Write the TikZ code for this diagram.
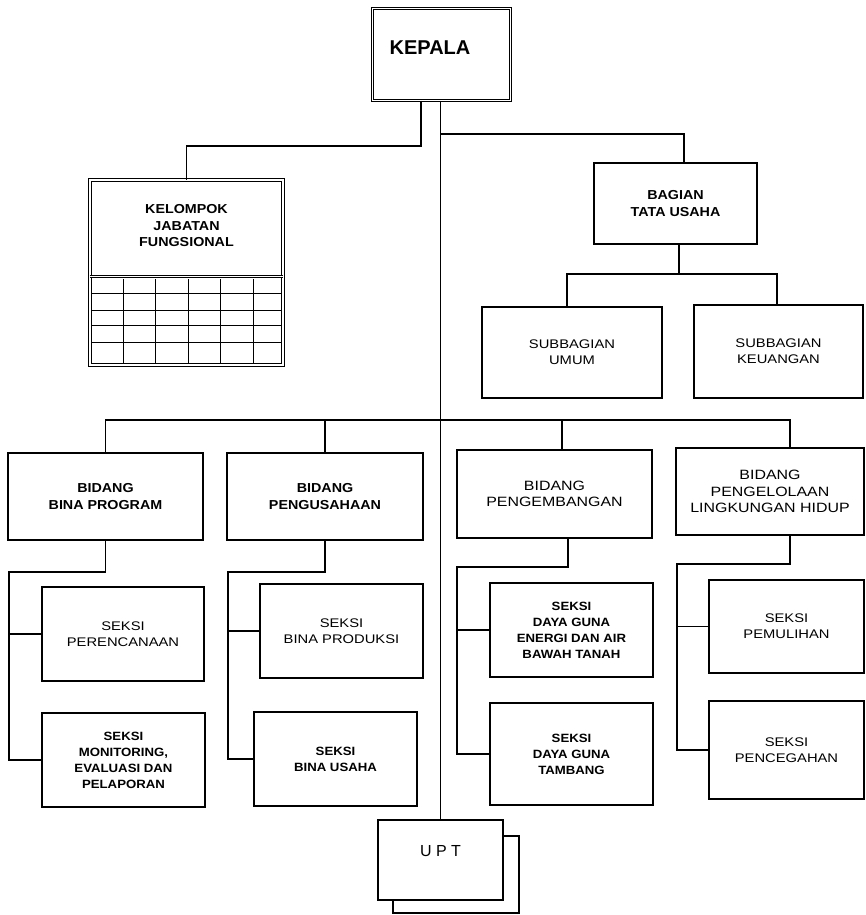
\documentclass[tikz,border=0pt]{standalone}
\usepackage{fontspec}
\setmainfont{Liberation Sans}
\newfontfamily\widef[FakeStretch=1.18]{Liberation Sans}
\newfontfamily\widebf[FakeStretch=1.1]{Liberation Sans Bold}
\begin{document}
\begin{tikzpicture}[x=1pt,y=-1pt,
  ln/.style={line width=1.1pt},
  box/.style={draw,line width=1.1pt,fill=white,inner sep=0pt,align=center},
  dbox/.style={draw,line width=0.9pt,double,double distance=1.8pt,inner sep=0pt},
  bigr/.style={font=\widef\fontsize{13.5}{16.5}\selectfont},
  bigb/.style={font=\widebf\fontsize{13}{16.5}\selectfont},
  smr/.style={font=\widef\fontsize{12.5}{16}\selectfont},
  smb/.style={font=\widebf\fontsize{12}{16}\selectfont}]
\useasboundingbox (0,0) rectangle (866,915);

% top level
\node[dbox,minimum width=138pt,minimum height=92pt] (kepala) at (441.5,54.5) {};
\node[font=\bfseries\fontsize{20}{24}\selectfont] (kepalat) at (430,48) {KEPALA};

\node[dbox,minimum width=193pt,minimum height=185pt] (kjf) at (186.5,272.5) {};
\node[bigb,align=center] (kjft) at (186.5,226) {KELOMPOK\\JABATAN\\FUNGSIONAL};
\coordinate (sep) at (0,276.5);
\draw[line width=0.9pt,double,double distance=1.8pt] (kjf.west |- sep) -- (kjf.east |- sep);
\foreach \yy in {293,310,325,342} \draw[line width=1pt] (92,\yy) -- (281,\yy);
\foreach \xx in {123,155,188,220,253} \draw[line width=1pt] (\xx,279) -- (\xx,363);

\node[box,bigb,minimum width=163pt,minimum height=81pt] (bagian) at (675.5,203.5) {BAGIAN\\TATA USAHA};
\node[box,smr,minimum width=180pt,minimum height=91pt] (sum) at (572,352.5) {SUBBAGIAN\\UMUM};
\node[box,smr,minimum width=169pt,minimum height=93pt] (suk) at (778.5,351.5) {SUBBAGIAN\\KEUANGAN};

% bidang
\node[box,bigb,minimum width=195pt,minimum height=87pt] (bp) at (105.5,496.5) {BIDANG\\BINA PROGRAM};
\node[box,bigb,minimum width=196pt,minimum height=87pt] (ps) at (325,496.5) {BIDANG\\PENGUSAHAAN};
\node[box,bigr,minimum width=195pt,minimum height=88pt] (pg) at (554.5,494) {BIDANG\\PENGEMBANGAN};
\node[box,bigr,minimum width=188pt,minimum height=87pt] (bl) at (770,491.5) {BIDANG\\PENGELOLAAN\\LINGKUNGAN HIDUP};

% seksi
\node[box,smr,minimum width=162pt,minimum height=94pt] (per) at (123,634) {SEKSI\\PERENCANAAN};
\node[box,smb,minimum width=163pt,minimum height=94pt] (mon) at (123.5,760) {SEKSI\\MONITORING,\\EVALUASI DAN\\PELAPORAN};
\node[box,smr,minimum width=163pt,minimum height=94pt] (pro) at (341.5,631) {SEKSI\\BINA PRODUKSI};
\node[box,smb,minimum width=163pt,minimum height=94pt] (usa) at (335.5,759) {SEKSI\\BINA USAHA};
\node[box,smb,minimum width=163pt,minimum height=94pt] (ene) at (571.5,630) {SEKSI\\DAYA GUNA\\ENERGI DAN AIR\\BAWAH TANAH};
\node[box,smb,minimum width=163pt,minimum height=102pt] (tam) at (571.5,754) {SEKSI\\DAYA GUNA\\TAMBANG};
\node[box,smr,minimum width=155pt,minimum height=93pt] (pem) at (786.5,626.5) {SEKSI\\PEMULIHAN};
\node[box,smr,minimum width=155pt,minimum height=98pt] (pen) at (786.5,750) {SEKSI\\PENCEGAHAN};

% UPT
\node[box,minimum width=126pt,minimum height=77pt] (upts) at (456,874.5) {};
\node[box,minimum width=125pt,minimum height=80pt] (upt) at (440.5,860) {};
\node[font=\fontsize{16}{19}\selectfont] (uptt) at (440.5,851) {U P T};

% connectors
\draw[ln] (kepala.south -| upt.north) -- (upt.north);
\coordinate (kk) at (421,146);
\draw[ln] (kepala.south -| kk) -- (kk) -| (kjf.north);
\coordinate (bb) at (440,134);
\coordinate (bx) at (684,0);
\draw[ln] (bb) -| (bagian.north -| bx);
\coordinate (sj) at (679,274);
\coordinate (sl) at (567,274);
\coordinate (sr) at (777,274);
\draw[ln] (bagian.south -| sj) -- (sj);
\draw[ln] (sum.north -| sl) |- (sr) -- (suk.north -| sr);

\coordinate (bus) at (0,420);
\coordinate (x3) at (562,0);
\coordinate (x4) at (790,0);
\coordinate (x5) at (568,0);
\draw[ln] (bp.north) |- (bus -| x4) -- (bl.north -| x4);
\draw[ln] (ps.north) -- (ps.north |- bus);
\draw[ln] (pg.north -| x3) -- (bus -| x3);

\coordinate (j1) at (9,572);
\draw[ln] (bp.south) -- (bp.south |- j1) -- (j1) -- (j1 |- mon.west) -- (mon.west);
\draw[ln] (j1 |- per.west) -- (per.west);
\coordinate (j2) at (228,572);
\draw[ln] (ps.south) -- (ps.south |- j2) -- (j2) -- (j2 |- usa.west) -- (usa.west);
\draw[ln] (j2 |- pro.west) -- (pro.west);
\coordinate (j3) at (457,567);
\draw[ln] (pg.south -| x5) -- (j3 -| x5) -- (j3) -- (j3 |- tam.west) -- (tam.west);
\draw[ln] (j3 |- ene.west) -- (ene.west);
\coordinate (j4) at (677,564);
\draw[ln] (bl.south -| x4) -- (j4 -| x4) -- (j4) -- (j4 |- pen.west) -- (pen.west);
\draw[ln] (j4 |- pem.west) -- (pem.west);
\end{tikzpicture}
\end{document}
